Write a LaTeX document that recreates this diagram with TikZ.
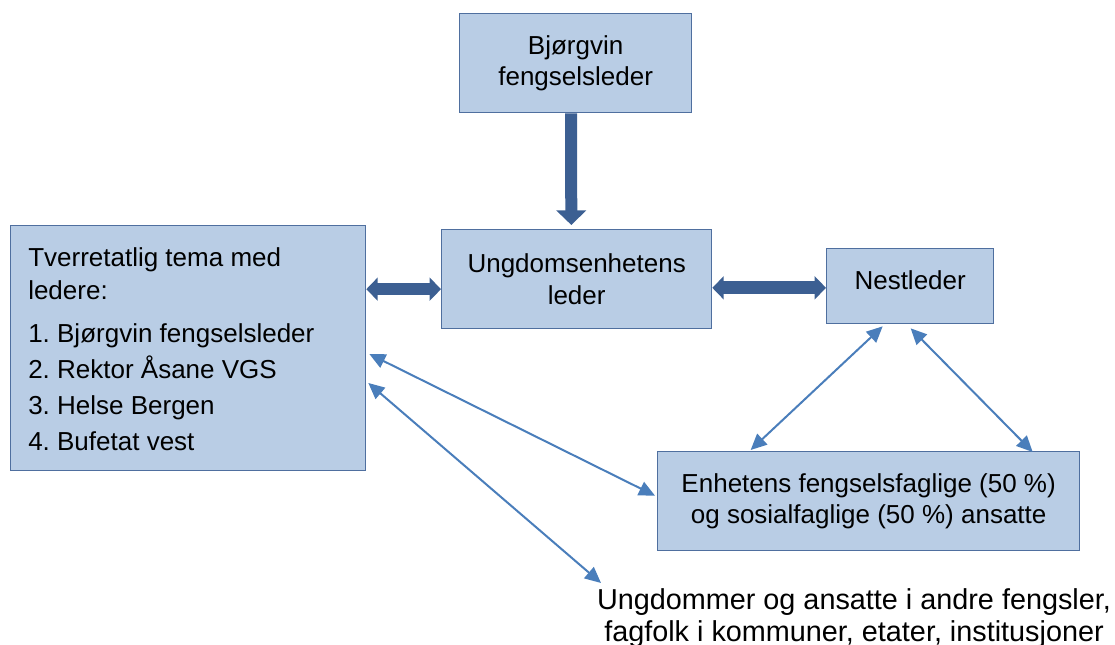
\documentclass[tikz,border=0pt]{standalone}
\usepackage{fontspec}
\setmainfont{Liberation Sans}
\usetikzlibrary{arrows.meta}
\definecolor{boxfill}{HTML}{B9CDE5}
\definecolor{boxline}{HTML}{4F6F9F}
\definecolor{fatblue}{HTML}{3C5F92}
\definecolor{thinblue}{HTML}{4A7EBB}
\frenchspacing

\begin{document}
\begin{tikzpicture}[x=0.75pt,y=-0.75pt,
  every node/.style={font=\fontsize{19.5}{23.4}\selectfont},
  box/.style={draw=boxline,fill=boxfill,line width=1pt,anchor=north west,align=center,inner sep=0pt},
  fat/.style={fatblue,line width=9pt,-{Triangle[width=22pt,length=11pt]}},
  fatboth/.style={fatblue,line width=9.5pt,{Triangle[width=17pt,length=8.5pt]}-{Triangle[width=17pt,length=8.5pt]}},
  thin/.style={thinblue,line width=1.5pt,{Triangle[width=11pt,length=12pt]}-{Triangle[width=11pt,length=12pt]}}]
\useasboundingbox (0,0) rectangle (1115,645);
% boxes
\node[box,minimum width=174pt,minimum height=74.25pt] (boss) at (459,13) {Bjørgvin\\fengselsleder};
\node[box,minimum width=202.5pt,minimum height=74.25pt] (leder) at (441,229) {Ungdomsenhetens\\leder};
\node[box,minimum width=125.25pt,minimum height=56.25pt,text depth=9pt] (nest) at (826,248) {Nestleder};
\node[box,minimum width=266.25pt,minimum height=183.75pt] (tema) at (10,225) {};
\node[anchor=north west,align=left,inner sep=0pt] (temaText) at (28,247)
  {Tverretatlig tema med\\[1.35pt]ledere:\\[8.85pt]1. Bjørgvin fengselsleder\\[3.6pt]2. Rektor Åsane VGS\\[3.6pt]3. Helse Bergen\\[3.6pt]4. Bufetat vest};
\node[box,minimum width=316.5pt,minimum height=74.25pt] (enh) at (657,451)
  {Enhetens fengselsfaglige (50 \%)\\og sosialfaglige (50 \%) ansatte};
\node[align=center,inner sep=0pt,font=\fontsize{21.6}{24}\selectfont] (andre) at (854,618)
  {Ungdommer og ansatte i andre fengsler,\\fagfolk i kommuner, etater, institusjoner};
\coordinate (andreTip) at (601,583);
% thick arrows
\draw[fat,shorten >=3pt] ([xshift=-3.5pt]boss.south) -- ([xshift=-4pt]leder.north);
\coordinate (lm) at ([yshift=-7.5pt]leder.west);
\coordinate (rm) at ([yshift=-6.5pt]leder.east);
\draw[fatboth] (lm -| tema.east) -- (lm);
\draw[fatboth] (rm) -- (rm -| nest.west);
% thin arrows
\draw[thin] ([shift={(3,129)}]tema.north east) -- ([shift={(-2,-5.5)}]enh.west);
\draw[thin] ([shift={(2,158)}]tema.north east) -- (andreTip);
\draw[thin] ([shift={(-27.5,2)}]nest.south) -- ([shift={(-118,-1)}]enh.north);
\draw[thin] ([shift={(0.5,4)}]nest.south) -- ([shift={(164,1)}]enh.north);
\end{tikzpicture}
\end{document}
